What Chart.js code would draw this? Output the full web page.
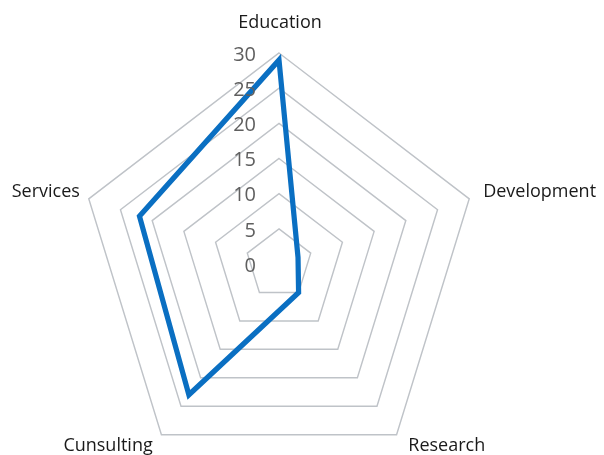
<!DOCTYPE html>
<html>
<head>
<meta charset="utf-8">
<script src="https://cdn.jsdelivr.net/npm/chart.js@4/dist/chart.umd.min.js"></script>
<style>
  html, body { margin: 0; padding: 0; background: #ffffff; overflow: hidden; }
  #wrap { position: relative; width: 604px; height: 480px; }
</style>
</head>
<body>
<div id="wrap"><canvas id="radar"></canvas></div>
<script>
// Categories around the radar, clockwise from the top
const categories = ['Education', 'Development', 'Research', 'Cunsulting', 'Services'];
// Score for each category
const scores = [29, 3, 5, 23, 22];
// Radial tick labels
const tickValues = [0, 5, 10, 15, 20, 25, 30];

// Label placement per category: alignment and nudge in px
const labelStyle = [
  { align: 'center', base: 'bottom', dx: 1,   dy: 0 },
  { align: 'left',   base: 'middle', dx: -5,  dy: 0 },
  { align: 'left',   base: 'middle', dx: 0,   dy: -6 },
  { align: 'right',  base: 'middle', dx: 3,   dy: -6 },
  { align: 'right',  base: 'middle', dx: 10,  dy: 0 }
];

const X_STRETCH = 0.948;   // the web is drawn slightly narrower than tall
const LABEL_GAP = 21;      // distance of category labels beyond the outer ring

const webStretch = {
  id: 'webStretch',
  beforeDraw(chart) {
    const s = chart.scales.r;
    const ctx = chart.ctx;
    ctx.save();
    ctx.translate(s.xCenter, 0);
    ctx.scale(X_STRETCH, 1);
    ctx.translate(-s.xCenter, 0);
  },
  afterDatasetsDraw(chart) {
    chart.ctx.restore();
  },
  afterDraw(chart) {
    const s = chart.scales.r;
    const ctx = chart.ctx;
    ctx.save();
    // tick values, right-aligned beside the vertical axis
    ctx.font = '20px "Open Sans"';
    ctx.fillStyle = '#5f5f5f';
    ctx.textAlign = 'right';
    ctx.textBaseline = 'middle';
    tickValues.forEach(v => {
      const d = s.getDistanceFromCenterForValue(v);
      ctx.fillText(String(v), s.xCenter - 23, s.yCenter - d + 2);
    });
    // category labels
    ctx.font = '18px "Open Sans"';
    ctx.fillStyle = '#1a1a1a';
    categories.forEach((name, i) => {
      const p = s.getPointPosition(i, s.drawingArea + LABEL_GAP);
      const x = s.xCenter + (p.x - s.xCenter) * X_STRETCH;
      const st = labelStyle[i];
      ctx.textAlign = st.align;
      ctx.textBaseline = st.base;
      ctx.fillText(name, x + st.dx, p.y + st.dy);
    });
    ctx.restore();
  }
};

new Chart(document.getElementById('radar'), {
  type: 'radar',
  data: {
    labels: categories,
    datasets: [{
      data: scores,
      borderColor: '#0a6fc2',
      borderWidth: 5.5,
      borderJoinStyle: 'miter',
      fill: false,
      pointRadius: 0,
      pointHoverRadius: 0,
      tension: 0
    }]
  },
  options: {
    responsive: true,
    maintainAspectRatio: false,
    devicePixelRatio: 1,
    animation: false,
    layout: { padding: { top: 53, bottom: 5, left: 68, right: 114 } },
    plugins: { legend: { display: false }, tooltip: { enabled: false } },
    scales: {
      r: {
        min: 0,
        max: 30,
        ticks: { stepSize: 5, display: false },
        angleLines: { display: false },
        grid: { color: '#bfc3c8', lineWidth: 1.5 },
        pointLabels: { display: false }
      }
    }
  },
  plugins: [webStretch]
});
</script>
</body>
</html>
